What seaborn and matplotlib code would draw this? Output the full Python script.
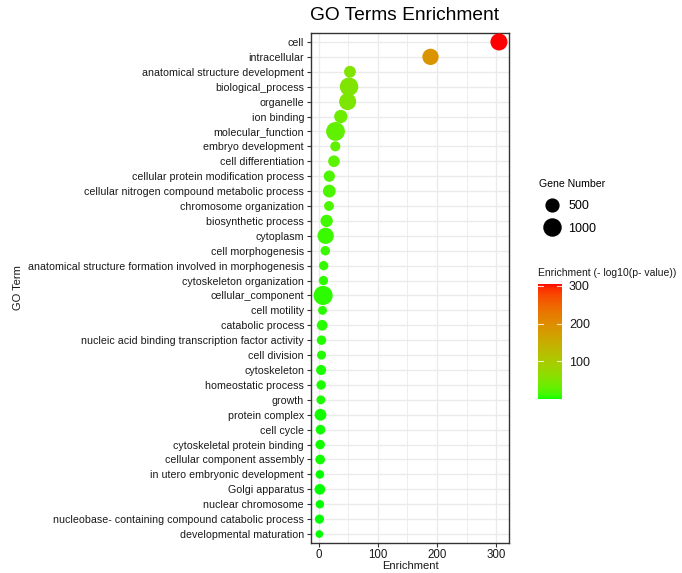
import numpy as np
import pandas as pd
import matplotlib
matplotlib.use("Agg")
import matplotlib.pyplot as plt
from matplotlib.colors import ListedColormap, Normalize
from matplotlib.lines import Line2D
import matplotlib.cm as cm
import seaborn as sns

terms = [
    "cell", "intracellular", "anatomical structure development", "biological_process",
    "organelle", "ion binding", "molecular_function", "embryo development",
    "cell differentiation", "cellular protein modification process",
    "cellular nitrogen compound metabolic process", "chromosome organization",
    "biosynthetic process", "cytoplasm", "cell morphogenesis",
    "anatomical structure formation involved in morphogenesis",
    "cytoskeleton organization", "cellular_component", "cell motility",
    "catabolic process", "nucleic acid binding transcription factor activity",
    "cell division", "cytoskeleton", "homeostatic process", "growth",
    "protein complex", "cell cycle", "cytoskeletal protein binding",
    "cellular component assembly", "in utero embryonic development",
    "Golgi apparatus", "nuclear chromosome",
    "nucleobase- containing compound catabolic process", "developmental maturation",
]
enrichment = [305, 189, 52.5, 51, 48.6, 37, 28, 27.7, 25.4, 17.5, 17.5, 17, 13, 11.3,
              10.7, 8, 7.6, 7, 6, 5.4, 4.3, 4.3, 3.7, 3.7, 3.2, 2.6, 2.6, 2, 2, 1.5,
              1.5, 1.5, 0.8, 0.6]
neg_log10_p = [305, 189, 52.5, 51, 48.6, 37, 28, 27.7, 25.4, 17.5, 17.5, 17, 13, 11.3,
               10.7, 8, 7.6, 7, 6, 5.4, 4.3, 4.3, 3.7, 3.7, 3.2, 2.6, 2.6, 2, 2, 1.5,
               1.5, 1.5, 0.8, 0.6]
gene_number = [1000, 900, 400, 1200, 1000, 550, 1250, 250, 380, 350, 500, 230, 450, 900,
               200, 190, 190, 1300, 160, 300, 200, 170, 250, 200, 160, 400, 220, 200,
               220, 140, 300, 130, 180, 80]
size_legend_values = [500, 1000]
color_ticks = [100, 200, 300]

df = pd.DataFrame({"term": terms, "Enrichment": enrichment,
                   "pval": neg_log10_p, "genes": gene_number})


# ---- ggplot-like green -> red gradient interpolated in Lab space ----
def srgb_to_lab(rgb):
    rgb = np.asarray(rgb, float)
    lin = np.where(rgb <= 0.04045, rgb / 12.92, ((rgb + 0.055) / 1.055) ** 2.4)
    M = np.array([[0.4124, 0.3576, 0.1805],
                  [0.2126, 0.7152, 0.0722],
                  [0.0193, 0.1192, 0.9505]])
    xyz = M @ lin
    wp = np.array([0.95047, 1.0, 1.08883])
    t = xyz / wp
    f = np.where(t > 0.008856, np.cbrt(t), 7.787 * t + 16 / 116)
    return np.array([116 * f[1] - 16, 500 * (f[0] - f[1]), 200 * (f[1] - f[2])])


def lab_to_srgb(lab):
    L, a, b = lab
    fy = (L + 16) / 116
    fx = fy + a / 500
    fz = fy - b / 200
    f = np.array([fx, fy, fz])
    t = np.where(f ** 3 > 0.008856, f ** 3, (f - 16 / 116) / 7.787)
    xyz = t * np.array([0.95047, 1.0, 1.08883])
    Minv = np.array([[3.2406, -1.5372, -0.4986],
                     [-0.9689, 1.8758, 0.0415],
                     [0.0557, -0.2040, 1.0570]])
    lin = Minv @ xyz
    lin = np.clip(lin, 0, 1)
    rgb = np.where(lin <= 0.0031308, 12.92 * lin, 1.055 * lin ** (1 / 2.4) - 0.055)
    return np.clip(rgb, 0, 1)


lab_lo = srgb_to_lab([0, 1, 0])
lab_hi = srgb_to_lab([1, 0, 0])
cols = [lab_to_srgb(lab_lo + (lab_hi - lab_lo) * t) for t in np.linspace(0, 1, 256)]
cmap = ListedColormap(cols)
cnorm = Normalize(vmin=min(neg_log10_p), vmax=max(neg_log10_p))

plt.rcParams["font.family"] = ["Liberation Sans", "DejaVu Sans"]
fig = plt.figure(figsize=(6.82, 5.73), dpi=100)
ax = fig.add_axes([311 / 682, 1 - 543 / 573, 198 / 682, 510 / 573])

sns.scatterplot(data=df, x="Enrichment", y="term", hue="pval", palette=cmap,
                hue_norm=cnorm, size="genes", sizes=(20, 190), size_norm=(0, 1300),
                linewidth=0, legend=False, ax=ax, zorder=3)

ax.set_xlim(-13.5, 322)
ax.set_ylim(len(terms) - 0.4, -0.6)
ax.set_xticks([0, 100, 200, 300])
ax.set_xticks([50, 150, 250], minor=True)
ax.set_facecolor("white")
ax.grid(True, which="major", color="#EBEBEB", linewidth=1.0, zorder=0)
ax.grid(True, which="minor", axis="x", color="#EBEBEB", linewidth=0.6, zorder=0)
ax.set_axisbelow(True)
for s in ax.spines.values():
    s.set_color("#333333")
    s.set_linewidth(1.0)
ax.tick_params(axis="y", which="major", length=3, width=0.8, color="#333333",
               labelsize=7.7, labelcolor="#1A1A1A", pad=2)
ax.tick_params(axis="x", which="major", length=3, width=0.8, color="#333333",
               labelsize=8.3, labelcolor="#1A1A1A", pad=1.5)
ax.tick_params(axis="x", which="minor", length=0)
ax.set_xlabel("Enrichment", fontsize=8, labelpad=0, color="#1A1A1A")
ax.set_ylabel("")
fig.text(18 / 682, 1 - 288 / 573, "GO Term", rotation=90, ha="center", va="center",
         fontsize=8, color="#1A1A1A")
fig.text(405 / 682, 1 - 16 / 573, "GO Terms Enrichment", fontsize=13.8,
         ha="center", va="center", color="black")

# size legend
smin, smax, nmin, nmax = 20, 190, 0, 1300
handles = []
for v in size_legend_values:
    s = smin + (smax - smin) * (v - nmin) / (nmax - nmin)
    handles.append(Line2D([], [], linestyle="", marker="o", markersize=np.sqrt(s),
                          markerfacecolor="black", markeredgecolor="black",
                          label=str(v)))
leg = fig.legend(handles=handles, title="Gene Number", loc="upper left",
                 bbox_to_anchor=(539 / 682, 1 - 179 / 573), frameon=False,
                 fontsize=9, title_fontsize=7.6, labelspacing=0.85,
                 handletextpad=0.35, borderaxespad=0, borderpad=0)
leg._legend_box.align = "left"
leg._legend_box.sep = 8

# colour bar
cax = fig.add_axes([538 / 682, 1 - 399 / 573, 24 / 682, 115 / 573])
sm = cm.ScalarMappable(norm=cnorm, cmap=cmap)
cb = fig.colorbar(sm, cax=cax, ticks=color_ticks)
cb.outline.set_visible(False)
cax.tick_params(length=0, labelsize=9, pad=5, labelcolor="#1A1A1A")
for t in color_ticks:
    cax.plot([0, 0.2], [t, t], color="white", lw=0.8, alpha=0.8,
             transform=cax.get_yaxis_transform())
    cax.plot([0.8, 1.0], [t, t], color="white", lw=0.8, alpha=0.8,
             transform=cax.get_yaxis_transform())
fig.text(538 / 682, 1 - 273 / 573, "Enrichment (- log10(p- value))", fontsize=7.5,
         ha="left", va="center", color="#1A1A1A")

fig.savefig("out.png", dpi=100, facecolor="white")
